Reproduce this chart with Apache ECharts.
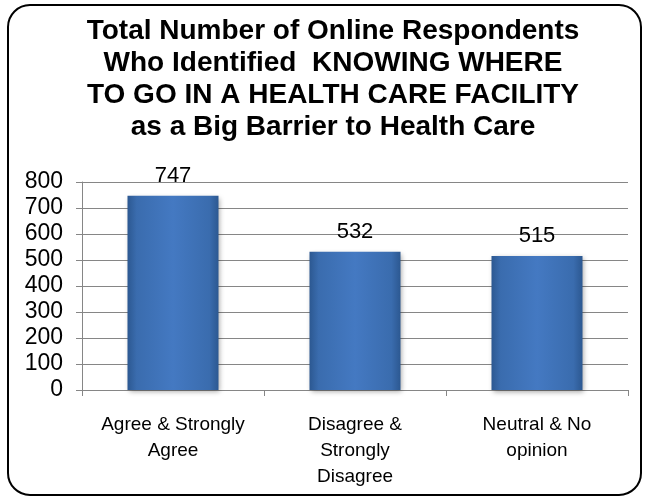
<!DOCTYPE html>
<html><head><meta charset="utf-8">
<script src="https://cdn.jsdelivr.net/npm/echarts@6/dist/echarts.min.js"></script>
<style>html,body{margin:0;padding:0;background:#fff}#c{width:648px;height:500px}</style>
</head><body><div id="c"></div>
<script>
var categories = ["Agree & Strongly\nAgree", "Disagree &\nStrongly\nDisagree", "Neutral & No\nopinion"];
var values = [747, 532, 515];
var titleText = "Total Number of Online Respondents\nWho Identified  KNOWING WHERE\nTO GO IN A HEALTH CARE FACILITY\nas a Big Barrier to Health Care";

var chart = echarts.init(document.getElementById('c'), null, {renderer: 'canvas'});
var barColor = new echarts.graphic.LinearGradient(0, 0, 1, 0, [
  {offset: 0, color: '#2c5891'},
  {offset: 0.1, color: '#3a6cae'},
  {offset: 0.5, color: '#4479c2'},
  {offset: 0.9, color: '#3a6cae'},
  {offset: 1, color: '#2c5891'}
]);
var F = 'Liberation Sans, Arial, sans-serif';
chart.setOption({
  animation: false,
  graphic: [{
    type: 'rect', left: 7, top: 4, z: -1,
    shape: {width: 633, height: 490, r: 22},
    style: {fill: '#fff', stroke: '#000', lineWidth: 2}
  }, {
    type: 'text', x: 333, y: 15, z: 10,
    style: {text: titleText, fill: '#000', font: 'bold 28px ' + F, textAlign: 'center', textVerticalAlign: 'top', lineHeight: 32}
  }],
  grid: {left: 82, right: 20, top: 182, bottom: 110, containLabel: false},
  xAxis: {
    type: 'category', data: categories,
    axisLine: {lineStyle: {color: '#868686', width: 1}},
    axisTick: {show: true, length: 6, lineStyle: {color: '#868686'}},
    axisLabel: {fontFamily: F, fontSize: 19, color: '#000', lineHeight: 26, margin: 22, interval: 0}
  },
  yAxis: {
    type: 'value', min: 0, max: 800, interval: 100,
    axisLine: {show: true, lineStyle: {color: '#868686'}},
    axisTick: {show: true, length: 6, lineStyle: {color: '#868686'}},
    splitLine: {lineStyle: {color: '#868686', width: 1}},
    axisLabel: {fontFamily: F, fontSize: 23, color: '#000', margin: 19}
  },
  series: [{
    type: 'bar', data: values, barWidth: '50%',
    itemStyle: {color: barColor, shadowColor: 'rgba(0,0,0,0.35)', shadowBlur: 5, shadowOffsetX: 1, shadowOffsetY: 2},
    label: {show: true, position: 'top', distance: 9, fontFamily: F, fontSize: 22, color: '#000'}
  }]
});
</script></body></html>
